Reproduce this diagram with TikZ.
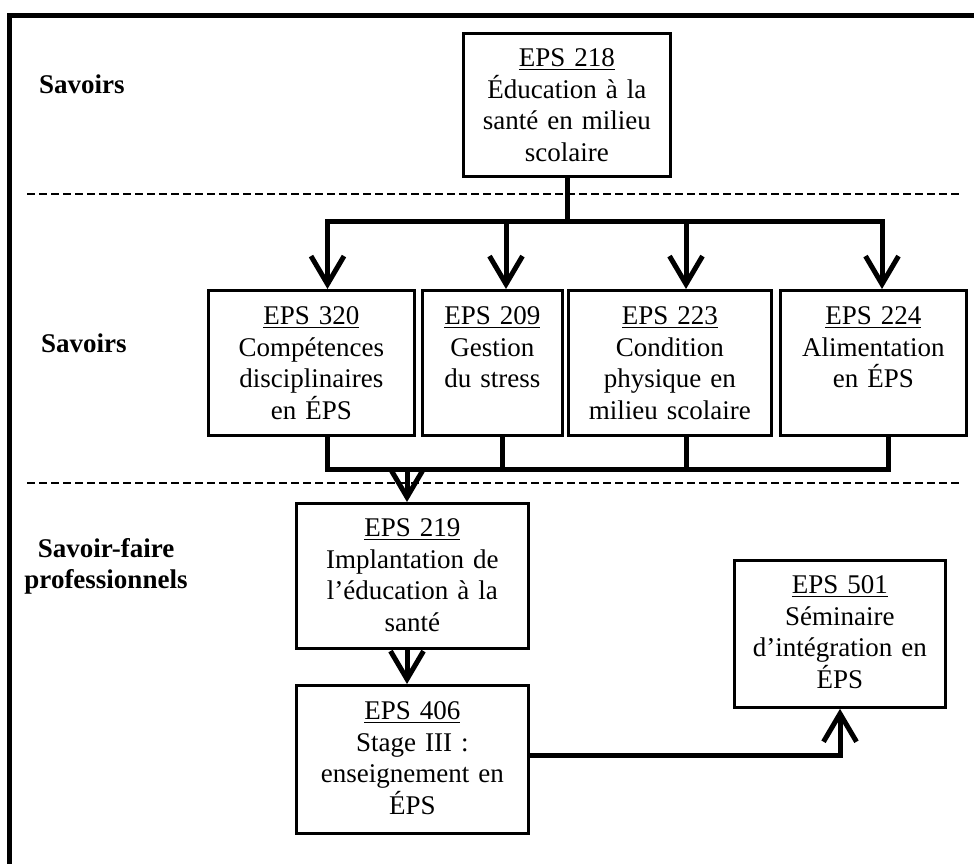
\documentclass[tikz,border=0pt]{standalone}
\usepackage{fontspec}
\setmainfont{Liberation Serif}
\usetikzlibrary{arrows.meta}
\newcommand{\myul}[1]{\leavevmode\vtop{\hbox{#1}\kern2pt\hrule height 1.1pt}}
\begin{document}
\begin{tikzpicture}[x=1pt,y=-1pt,
  box/.style={draw, line width=2.8pt, inner sep=0pt, align=center, anchor=north west,
    font=\fontsize{27}{31.7}\selectfont},
  lbl/.style={font=\fontsize{27}{31}\selectfont\bfseries, align=center, inner sep=0pt},
  conn/.style={line width=5pt, line cap=rect},
  arr/.style={line width=5pt, -{Straight Barb[length=28pt,width=33pt]}},
  sepline/.style={line width=1.2pt, dash pattern=on 8pt off 4pt}]
\useasboundingbox (0,0) rectangle (974,863);
% frame
\draw[line width=5pt] (9.3,880) -- (9.3,15.3) -- (990,15.3);
% separators
\draw[sepline] (27,194) -- (960,194);
\draw[sepline] (27,483) -- (960,483);
% labels
\node[lbl, anchor=base west] (l1) at (39,93) {Savoirs};
\node[lbl, anchor=base west] (l2) at (41,352) {Savoirs};
\node[lbl, anchor=base] (l3) at (106,588) {Savoir-faire\\professionnels};
% boxes
\node[box, text width=207pt, text height=33pt, text depth=110pt] (e218) at (462,32)
  {\myul{EPS 218}\\Éducation à la\\santé en milieu\\scolaire};
\node[box, text width=206pt, text height=34pt, text depth=111pt] (e320) at (207,289)
  {\myul{EPS 320}\\Compétences\\disciplinaires\\en ÉPS};
\node[box, text width=140pt, text height=34pt, text depth=111pt] (e209) at (421,289)
  {\myul{EPS 209}\\Gestion\\du stress};
\node[box, text width=203pt, text height=34pt, text depth=111pt] (e223) at (567,289)
  {\myul{EPS 223}\\Condition\\physique en\\milieu scolaire};
\node[box, text width=186pt, text height=34pt, text depth=111pt] (e224) at (779,289)
  {\myul{EPS 224}\\Alimentation\\en ÉPS};
\node[box, text width=232pt, text height=33pt, text depth=112pt] (e219) at (295,502)
  {\myul{EPS 219}\\Implantation de\\l’éducation à la\\santé};
\node[box, text width=232pt, text height=34pt, text depth=114pt] (e406) at (295,684)
  {\myul{EPS 406}\\Stage III :\\enseignement en\\ÉPS};
\node[box, text width=211pt, text height=33pt, text depth=114pt] (e501) at (733,559)
  {\myul{EPS 501}\\Séminaire\\d’intégration en\\ÉPS};
% top bus
\coordinate (t1) at (567,221.7);
\coordinate (b1) at (327.5,221.7);
\coordinate (b2) at (506,221.7);
\coordinate (b3) at (686,221.7);
\coordinate (b4) at (882,221.7);
\draw[conn] (e218.south -| t1) -- (t1);
\draw[conn] (b1) -- (b4);
\draw[arr] (b1) -- (b1 |- e320.north);
\draw[arr] (b2) -- (b2 |- e209.north);
\draw[arr] (b3) -- (b3 |- e223.north);
\draw[arr] (b4) -- (b4 |- e224.north);
% bottom bus
\coordinate (c1) at (327.3,469);
\coordinate (c2) at (502,469);
\coordinate (c3) at (686,469);
\coordinate (c4) at (888,469);
\coordinate (d) at (407,469);
\draw[conn] (c1 |- e320.south) -- (c1);
\draw[conn] (c2 |- e209.south) -- (c2);
\draw[conn] (c3 |- e223.south) -- (c3);
\draw[conn] (c4 |- e224.south) -- (c4);
\draw[conn] (c1) -- (c4);
\draw[arr] (d) -- (d |- e219.north);
\draw[arr] (d |- e219.south) -- (d |- e406.north);
% to 501
\coordinate (k) at (840,755);
\draw[arr] (e406.east |- k) -- (k) -- (k |- e501.south);
\end{tikzpicture}
\end{document}
